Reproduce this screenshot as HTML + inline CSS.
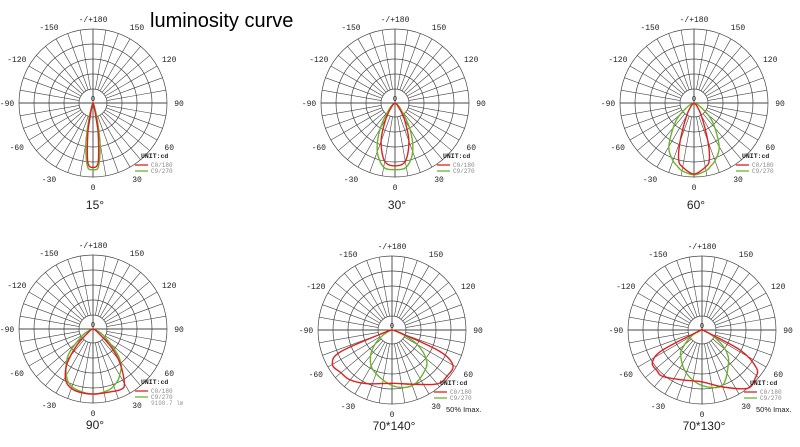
<!DOCTYPE html>
<html><head><meta charset="utf-8"><style>
html,body{margin:0;padding:0;background:#fff;width:800px;height:447px;overflow:hidden}
svg text{font-family:"Liberation Mono",monospace;}
</style></head><body>
<svg id="s" width="800" height="447" viewBox="0 0 800 447" xmlns="http://www.w3.org/2000/svg">
<text x="150" y="27" font-size="20" style="font-family:'Liberation Sans',sans-serif">luminosity curve</text>
</svg>
<script>
// chart data (angle in degrees from nadir, value = relative intensity 0..1)
const chartTitles = ["15°","30°","60°","90°","70*140°","70*130°"];
const c1Angles = [-30,-20,-15,-10,-5,0,5,10,15,20,30];
const c1Red =   [0,0.02,0.08,0.4,0.8,0.87,0.8,0.4,0.08,0.02,0];
const c1Green = [0,0.05,0.2,0.55,0.86,0.9,0.86,0.55,0.2,0.05,0];
const c2Angles = [-60,-45,-30,-20,-10,0,10,20,30,45,60];
const c2Red =   [0,0.05,0.25,0.55,0.8,0.85,0.8,0.55,0.25,0.05,0];
const c2Green = [0,0.1,0.4,0.7,0.88,0.9,0.88,0.7,0.4,0.1,0];
const c3Angles = [-90,-60,-45,-30,-20,-15,-10,0,10,15,20,30,45,60,90];
const c3Red =   [0,0,0.05,0.2,0.55,0.8,0.88,0.96,0.88,0.8,0.55,0.2,0.05,0,0];
const c3Green = [0,0.1,0.35,0.68,0.83,0.88,0.93,0.97,0.93,0.88,0.83,0.68,0.35,0.1,0];
const c4Angles = [-90,-60,-45,-37,-30,-24,-15,0,15,25,30,38,45,60,90];
const c4Red =   [0,0.05,0.3,0.58,0.75,0.83,0.87,0.88,0.88,0.9,0.85,0.6,0.35,0.05,0];
const c4Green = [0,0.15,0.45,0.6,0.72,0.8,0.85,0.88,0.85,0.78,0.72,0.62,0.45,0.15,0];
const c5Angles = [-90,-72,-67,-60,-50,-40,-25,0,20,40,50,60,66,72,90];
const c5Red =   [0,0.1,0.76,0.93,0.9,0.88,0.8,0.72,0.78,0.95,0.97,0.95,0.7,0.1,0];
const c5Green = [0,0,0.05,0.15,0.3,0.45,0.6,0.75,0.8,0.7,0.6,0.4,0.2,0.05,0];
const c6Angles = [-90,-70,-63,-57,-48,-40,-20,0,20,38,48,55,62,68,90];
const c6Red =   [0,0.05,0.6,0.8,0.82,0.82,0.72,0.7,0.82,1.0,0.97,0.9,0.6,0.05,0];
const c6Green = [0,0.02,0.12,0.2,0.34,0.45,0.62,0.75,0.8,0.58,0.45,0.3,0.15,0.03,0];
const redCurves = [[c1Angles,c1Red],[c2Angles,c2Red],[c3Angles,c3Red],[c4Angles,c4Red],[c5Angles,c5Red],[c6Angles,c6Red]];
const greenCurves = [[c1Angles,c1Green],[c2Angles,c2Green],[c3Angles,c3Green],[c4Angles,c4Green],[c5Angles,c5Green],[c6Angles,c6Green]];
const ringLabels = ["-/+180","150","120","90","60","30","0","-30","-60","-90","-120","-150"];
const ringLabelAngles = [180,150,120,90,60,30,0,-30,-60,-90,-120,-150];

const NS="http://www.w3.org/2000/svg";
const svg=document.getElementById('s');
const centers=[[93,103],[395,103],[694,103],[93,329],[392,330],[702,330]];
const R=74, R0=14;
function mk(tag,attrs,parent){const e=document.createElementNS(NS,tag);for(const k in attrs)e.setAttribute(k,attrs[k]);(parent||svg).appendChild(e);return e;}
function pt(cx,cy,ang,r){const a=ang*Math.PI/180;return [cx+r*Math.sin(a),cy+r*Math.cos(a)];}
function curvePath(cx,cy,angles,vals){
  const p=angles.map((a,i)=>pt(cx,cy,a,vals[i]*R));
  let d="M"+p[0][0].toFixed(1)+","+p[0][1].toFixed(1);
  for(let i=0;i<p.length-1;i++){
    const p0=p[Math.max(0,i-1)],p1=p[i],p2=p[i+1],p3=p[Math.min(p.length-1,i+2)];
    const c1=[p1[0]+(p2[0]-p0[0])/6,p1[1]+(p2[1]-p0[1])/6];
    const c2=[p2[0]-(p3[0]-p1[0])/6,p2[1]-(p3[1]-p1[1])/6];
    d+=" C"+c1.map(v=>v.toFixed(1))+" "+c2.map(v=>v.toFixed(1))+" "+p2.map(v=>v.toFixed(1));
  }
  return d+" Z";
}
centers.forEach((c,ci)=>{
  const [cx,cy]=c;
  const g=mk('g',{});
  
  
  for(let k=0;k<=4;k++){
    const r=R0+(R-R0)*k/4;
    const ring=mk('circle',{cx:cx,cy:cy,r:r,fill:'none',stroke:'#444','stroke-width':0.7},g);
    
    
  }
  for(let a=0;a<360;a+=10){
    const r1=(a%90===0)?0:R0;
    const p1=pt(cx,cy,a,r1),p2=pt(cx,cy,a,R);
    const sp=mk('line',{x1:p1[0],y1:p1[1],x2:p2[0],y2:p2[1],stroke:'#444','stroke-width':(a%90===0)?0.9:0.6},g);
    
    
  }
  ringLabels.forEach((t,i)=>{
    const a=ringLabelAngles[i];
    const off=(a===180||a===0)?10:(Math.abs(a)===90?12:14);
    const p=pt(cx,cy,a,R+off);
    const tx=mk('text',{x:p[0],y:p[1]+3,'font-size':8,'text-anchor':'middle',fill:'#222'},g);
    tx.textContent=t;
    
    
  });
  const z=mk('text',{x:cx,y:cy-2,'font-size':7,'text-anchor':'middle',fill:'#222'},g);
  z.textContent="0";
  
  
  const gp=mk('path',{d:curvePath(cx,cy,greenCurves[ci][0],greenCurves[ci][1]),fill:'none',stroke:'#6ab42c','stroke-width':1.4},g);
  
  
  const rp=mk('path',{d:curvePath(cx,cy,redCurves[ci][0],redCurves[ci][1]),fill:'none',stroke:'#e02020','stroke-width':1.4},g);
  
  
  // legend
  const lx=cx+48, ly=cy+55;
  const u=mk('text',{x:lx,y:ly,'font-size':6.5,'font-weight':'bold',fill:'#222'},g);
  u.textContent="UNIT:cd";
  
  
  [['#e02020','C0/180'],['#6ab42c','C9/270']].forEach((e,i)=>{
    const ln=mk('line',{x1:lx-6,y1:ly+7+i*6,x2:lx+7,y2:ly+7+i*6,stroke:e[0],'stroke-width':1.3},g);
    
    
    const t=mk('text',{x:lx+10,y:ly+9+i*6,'font-size':6,fill:'#888'},g);
    t.textContent=e[1];
    
    
  });
  if(ci===3){
    const lm=mk('text',{x:lx+10,y:ly+21,'font-size':6,fill:'#999'},g);
    lm.textContent="9198.7 lm";
    
    
  }
  if(ci>=4){
    const m=mk('text',{x:lx+6,y:ly+27,'font-size':7.5,fill:'#222',style:"font-family:'Liberation Sans',sans-serif"},g);
    m.textContent="50% Imax.";
    
    
  }
  const tt=mk('text',{x:cx+2,y:cy+(ci<3?106:100),'font-size':12,'text-anchor':'middle',fill:'#222',style:"font-family:'Liberation Sans',sans-serif"},g);
  tt.textContent=chartTitles[ci];
  
  
});
</script>
</body></html>
